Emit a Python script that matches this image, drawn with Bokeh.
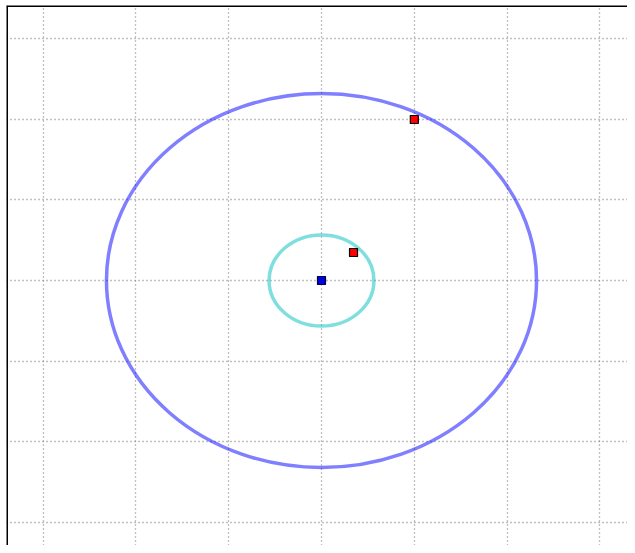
from bokeh.plotting import figure
from bokeh.models import FixedTicker, Range1d, Span
from bokeh.embed import file_html
from bokeh.resources import INLINE

# data
grid_ticks = [-3, -2, -1, 0, 1, 2, 3]
orbit_radii = [2.317, 0.565]
orbit_colors = ["#0000ff", "#00bfbf"]
star_x = [0.0]
star_y = [0.0]
planet_x = [1.0, 0.345]
planet_y = [1.995, 0.347]

x0, x1 = -3.394, 3.297
y0, y1 = -3.284, 3.408

p = figure(width=627, height=545, output_backend="svg", toolbar_location=None,
           x_range=Range1d(x0, x1), y_range=Range1d(y0, y1),
           min_border_left=6, min_border_top=5, min_border_right=0,
           min_border_bottom=0)
p.axis.visible = False
p.xgrid.ticker = FixedTicker(ticks=grid_ticks)
p.ygrid.ticker = FixedTicker(ticks=grid_ticks)
for g in (p.xgrid, p.ygrid):
    g.grid_line_color = "#808080"
    g.grid_line_dash = "1 3"
    g.grid_line_width = 1.3
p.outline_line_color = None
p.background_fill_color = "white"

p.add_layout(Span(location=x0, dimension="height", line_color="black", line_width=3))
p.add_layout(Span(location=y1, dimension="width", line_color="black", line_width=3))

for r, c in zip(orbit_radii, orbit_colors):
    p.ellipse(x=0, y=0, width=2 * r, height=2 * r, fill_color=None,
              line_color=c, line_alpha=0.5, line_width=3.5)

p.scatter(star_x, star_y, marker="square", size=8, fill_color="#0000e0",
          line_color="#000033", line_width=1.2)
p.scatter(planet_x, planet_y, marker="square", size=8, fill_color="#ff0000",
          line_color="black", line_width=1.2)

open("out.html", "w").write(file_html(p, INLINE))
